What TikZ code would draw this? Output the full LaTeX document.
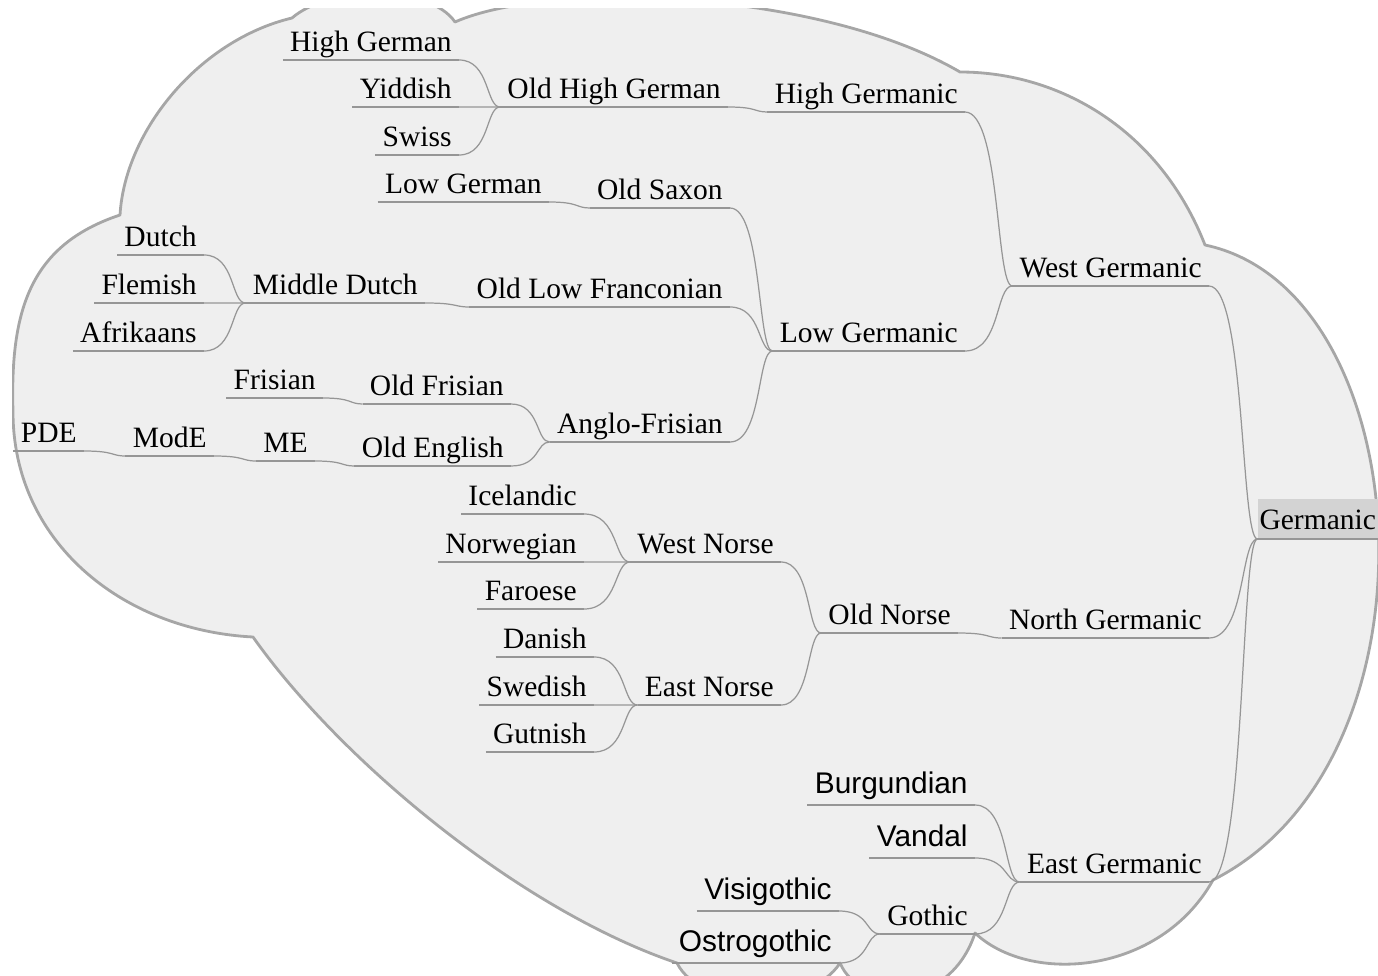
\documentclass[tikz,border=0pt]{standalone}
\usepackage{fontspec}
\setmainfont{Liberation Serif}
\newfontfamily\sansfam{Liberation Sans}
\usetikzlibrary{calc}

\definecolor{cloudfill}{RGB}{239,239,239}
\definecolor{cloudline}{RGB}{166,166,166}
\definecolor{linkgray}{RGB}{150,150,150}
\definecolor{rootfill}{RGB}{211,211,211}

\tikzset{
  lang/.style={anchor=south east, inner xsep=4pt, inner ysep=0pt, text depth=4.8pt,
    font=\fontsize{16.8}{20}\selectfont},
  sanslang/.style={lang, text depth=6.2pt, font=\sansfam\fontsize{17}{20}\selectfont},
  root/.style={lang, fill=rootfill, inner xsep=1pt, text height=17.6pt, text depth=5pt},
  uline/.style={draw=linkgray, line width=0.8pt},
  link/.style={draw=linkgray, line width=0.7pt,
    to path={.. controls ($(\tikztostart)!0.75!(\tikztotarget|-\tikztostart)$)
      and ($(\tikztotarget)!0.35!(\tikztostart|-\tikztotarget)$) .. (\tikztotarget)}},
  cloud/.style={fill=cloudfill, draw=cloudline, line width=1.6pt, line join=round}
}

\begin{document}
\begin{tikzpicture}[x=0.02cm, y=-0.02cm]
    \useasboundingbox (0,0) rectangle (1378,976);
    % background cloud
    \begin{scope}
        \clip (12,9) rectangle (1378,976);
        \path[cloud] (13,412) .. controls (10,310) and (30,245) .. (120,215)
            .. controls (125,130) and (200,40) .. (292,18)
            .. controls (330,-15) and (430,-15) .. (455,22)
            .. controls (550,-20) and (820,-10) .. (960,72)
            .. controls (1060,72) and (1160,130) .. (1205,245)
            .. controls (1420,290) and (1450,760) .. (1213,880)
            .. controls (1160,975) and (1030,985) .. (975,933)
            .. controls (950,1010) and (860,1010) .. (840,963)
            .. controls (810,1010) and (700,1010) .. (677,963)
            .. controls (520,910) and (340,760) .. (253,637)
            .. controls (120,630) and (13,540) .. (13,412) -- cycle;
    \end{scope}

    % West Germanic
    \node[lang] (highgerman) at (459,60) {High German};
    \node[lang] (yiddish) at (459,107) {Yiddish};
    \node[lang] (swiss) at (459,155) {Swiss};
    \node[lang] (ohg) at (728,107) {Old High German};
    \node[lang] (highgmc) at (965,112) {High Germanic};
    \node[lang] (lowgerman) at (549,202) {Low German};
    \node[lang] (oldsaxon) at (730,208) {Old Saxon};
    \node[lang] (dutch) at (204,255) {Dutch};
    \node[lang] (flemish) at (204,303) {Flemish};
    \node[lang] (afrikaans) at (204,351) {Afrikaans};
    \node[lang] (middutch) at (425,303) {Middle Dutch};
    \node[lang] (olf) at (730,307) {Old Low Franconian};
    \node[lang] (lowgmc) at (965,351) {Low Germanic};
    \node[lang] (frisian) at (323,398) {Frisian};
    \node[lang] (oldfrisian) at (511,404) {Old Frisian};
    \node[lang] (pde) at (84,451) {PDE};
    \node[lang] (mode) at (214,456) {ModE};
    \node[lang] (me) at (315,461) {ME};
    \node[lang] (oldenglish) at (511,466) {Old English};
    \node[lang] (anglofrisian) at (730,442) {Anglo-Frisian};
    \node[lang] (westgmc) at (1209,286) {West Germanic};
    % North Germanic
    \node[lang] (icelandic) at (584,514) {Icelandic};
    \node[lang] (norwegian) at (584,562) {Norwegian};
    \node[lang] (faroese) at (584,609) {Faroese};
    \node[lang] (westnorse) at (781,562) {West Norse};
    \node[lang] (danish) at (594,657) {Danish};
    \node[lang] (swedish) at (594,705) {Swedish};
    \node[lang] (gutnish) at (594,752) {Gutnish};
    \node[lang] (eastnorse) at (781,705) {East Norse};
    \node[lang] (oldnorse) at (958,633) {Old Norse};
    \node[lang] (northgmc) at (1209,638) {North Germanic};
    % East Germanic
    \node[sanslang] (burgundian) at (975,805) {Burgundian};
    \node[sanslang] (vandal) at (975,858) {Vandal};
    \node[sanslang] (visigothic) at (839,911) {Visigothic};
    \node[sanslang] (ostrogothic) at (839,963) {Ostrogothic};
    \node[lang] (gothic) at (975,934) {Gothic};
    \node[lang] (eastgmc) at (1209,882) {East Germanic};
    \node[root] (germanic) at (1378,539) {Germanic};

    \foreach \n in {highgerman, yiddish, swiss, ohg, highgmc, lowgerman, oldsaxon,
        dutch, flemish, afrikaans, middutch, olf, lowgmc, frisian, oldfrisian, pde,
        mode, me, oldenglish, anglofrisian, westgmc, icelandic, norwegian, faroese,
        westnorse, danish, swedish, gutnish, eastnorse, oldnorse, northgmc,
        burgundian, vandal, visigothic, ostrogothic, gothic, eastgmc, germanic}
        \draw[uline] (\n.south west) -- (\n.south east);

    \foreach \u/\v in {highgerman/ohg, yiddish/ohg, swiss/ohg, ohg/highgmc,
        highgmc/westgmc, lowgerman/oldsaxon, oldsaxon/lowgmc, dutch/middutch,
        flemish/middutch, afrikaans/middutch, middutch/olf, olf/lowgmc,
        frisian/oldfrisian, oldfrisian/anglofrisian, pde/mode, mode/me,
        me/oldenglish, oldenglish/anglofrisian, anglofrisian/lowgmc,
        lowgmc/westgmc, westgmc/germanic, icelandic/westnorse,
        norwegian/westnorse, faroese/westnorse, danish/eastnorse,
        swedish/eastnorse, gutnish/eastnorse, westnorse/oldnorse,
        eastnorse/oldnorse, oldnorse/northgmc, northgmc/germanic,
        burgundian/eastgmc, vandal/eastgmc, visigothic/gothic,
        ostrogothic/gothic, gothic/eastgmc, eastgmc/germanic}
        \draw[link] (\u.south east) to (\v.south west);
\end{tikzpicture}
\end{document}
